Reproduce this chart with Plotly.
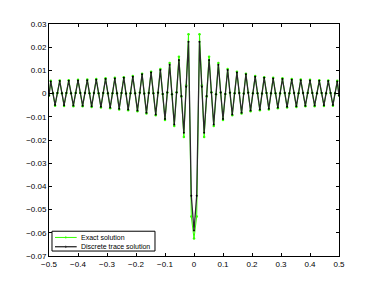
import plotly.graph_objects as go

# Right half (x >= 0) of the sampled curve; the curve is symmetric about x = 0
x_right = [0.0, 0.0093, 0.019, 0.027, 0.035, 0.0435, 0.052, 0.060, 0.068, 0.076,
           0.084, 0.092, 0.100, 0.108, 0.116, 0.124, 0.132, 0.140, 0.148, 0.156,
           0.164, 0.1715, 0.179, 0.187, 0.195, 0.203, 0.211, 0.219, 0.227, 0.2345,
           0.242, 0.250, 0.258, 0.2655, 0.273, 0.281, 0.289, 0.297, 0.305, 0.313,
           0.321, 0.329, 0.337, 0.345, 0.353, 0.3605, 0.368, 0.376, 0.384, 0.392,
           0.400, 0.408, 0.416, 0.424, 0.432, 0.440, 0.448, 0.4555, 0.463, 0.471,
           0.479, 0.4865, 0.494, 0.500]

discrete_right = [-0.0590, -0.0440, 0.0223, 0.0030, -0.0169, -0.0010, 0.0145, 0.0005, -0.0133, -0.0003,
                  0.0124, 0.0005, -0.0109, -0.0002, 0.0102, 0.0004, -0.0090, 0.0001, 0.0091, 0.0003,
                  -0.0083, 0.0000, 0.0083, 0.0004, -0.0073, 0.0001, 0.0073, 0.0002, -0.0069, 0.0000,
                  0.0068, 0.0003, -0.0065, 0.0001, 0.0065, 0.0002, -0.0060, 0.0002, 0.0063, 0.0003,
                  -0.0057, 0.0002, 0.0060, 0.0003, -0.0055, 0.0002, 0.0058, 0.0003, -0.0052, 0.0003,
                  0.0057, 0.0003, -0.0051, 0.0002, 0.0055, 0.0003, -0.0050, 0.0002, 0.0054, 0.0003,
                  -0.0049, 0.0002, 0.0052, -0.0008]

exact_right = [-0.0625, -0.0530, 0.0256, 0.0035, -0.0187, -0.0012, 0.0159, 0.0006, -0.0140, -0.0003,
               0.0132, 0.0005, -0.0114, -0.0002, 0.0106, 0.0004, -0.0093, 0.0001, 0.0094, 0.0003,
               -0.0086, 0.0000, 0.0086, 0.0004, -0.0076, 0.0001, 0.0076, 0.0002, -0.0072, 0.0000,
               0.0071, 0.0003, -0.0068, 0.0001, 0.0068, 0.0002, -0.0063, 0.0002, 0.0066, 0.0003,
               -0.0060, 0.0002, 0.0063, 0.0003, -0.0058, 0.0002, 0.0061, 0.0003, -0.0055, 0.0003,
               0.0060, 0.0003, -0.0054, 0.0002, 0.0058, 0.0003, -0.0053, 0.0002, 0.0057, 0.0003,
               -0.0052, 0.0002, 0.0055, -0.0008]

x_ticks = [-0.5, -0.4, -0.3, -0.2, -0.1, 0, 0.1, 0.2, 0.3, 0.4, 0.5]
y_ticks = [0.03, 0.02, 0.01, 0, -0.01, -0.02, -0.03, -0.04, -0.05, -0.06, -0.07]
series_names = ["Exact solution", "Discrete trace solution"]

GREEN = "#33ff00"
DARK = "#2a2a2a"

# mirror the right half onto the left half
x_all = [-v for v in reversed(x_right[1:])] + x_right
discrete_all = list(reversed(discrete_right[1:])) + discrete_right
exact_all = list(reversed(exact_right[1:])) + exact_right

fig = go.Figure()
fig.add_trace(go.Scatter(x=x_all, y=exact_all, mode="lines+markers",
                         name=series_names[0],
                         line=dict(color=GREEN, width=1),
                         marker=dict(color=GREEN, size=2.5)))
fig.add_trace(go.Scatter(x=x_all, y=discrete_all, mode="lines+markers",
                         name=series_names[1],
                         line=dict(color=DARK, width=1.3),
                         marker=dict(color="black", size=2)))

axis_common = dict(showline=True, linecolor="black", linewidth=1, mirror="ticks",
                   ticks="inside", ticklen=3, tickcolor="black", showgrid=False,
                   zeroline=False, tickfont=dict(family="Liberation Sans", size=8, color="black"))

fig.update_xaxes(range=[-0.5, 0.5], tickvals=x_ticks,
                 ticktext=[("%g" % v).replace("-", "\u2212") for v in x_ticks], **axis_common)
fig.update_yaxes(range=[-0.07, 0.03], tickvals=y_ticks,
                 ticktext=[("%g" % v).replace("-", "\u2212") for v in y_ticks], **axis_common)

# hand-built compact legend (MATLAB style) in paper coordinates
lx0, lx1, ly0, ly1 = 0.0103, 0.3655, 0.0214, 0.1068
shapes = [dict(type="rect", xref="paper", yref="paper", x0=lx0, x1=lx1, y0=ly0, y1=ly1,
               line=dict(color="black", width=1), fillcolor="white", layer="above")]
annotations = []
rows = [(0.080, GREEN, 1, series_names[0]), (0.040, DARK, 1.3, series_names[1])]
for yy, col, w, name in rows:
    shapes.append(dict(type="line", xref="paper", yref="paper", x0=0.0207, x1=0.0955,
                       y0=yy, y1=yy, line=dict(color=col, width=w), layer="above"))
    shapes.append(dict(type="circle", xref="paper", yref="paper", x0=0.0565, x1=0.0597,
                       y0=yy - 0.004, y1=yy + 0.004, line=dict(color=col, width=0.5),
                       fillcolor=col, layer="above"))
    annotations.append(dict(xref="paper", yref="paper", x=0.1034, y=yy, text=name,
                            showarrow=False, xanchor="left", yanchor="middle",
                            font=dict(family="Liberation Sans", size=7, color="black")))

fig.update_layout(
    width=374, height=287,
    margin=dict(l=41, r=43, t=14, b=39),
    plot_bgcolor="white", paper_bgcolor="white",
    showlegend=False,
    shapes=shapes, annotations=annotations,
)

fig.write_html("out.html")
